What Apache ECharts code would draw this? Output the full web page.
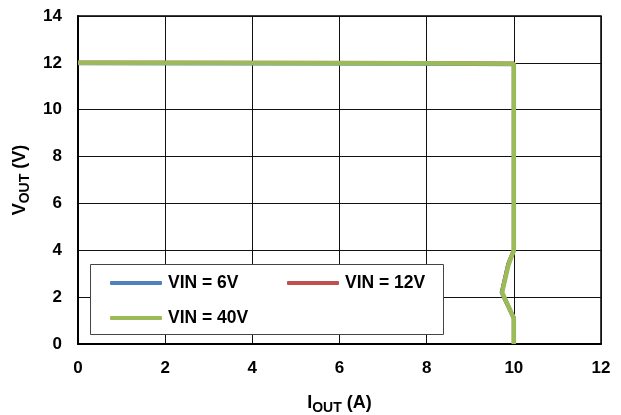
<!DOCTYPE html>
<html>
<head>
<meta charset="utf-8">
<script src="https://cdn.jsdelivr.net/npm/echarts@6/dist/echarts.min.js"></script>
<style>
html,body{margin:0;padding:0;background:#fff;}
#c{width:621px;height:415px;}
</style>
</head>
<body>
<div id="c"></div>
<script>
// Data
var seriesNames = ['VIN = 6V', 'VIN = 12V', 'VIN = 40V'];
var iout6  = [0, 4, 8, 10, 10, 9.87, 9.72, 10, 10];
var vout6  = [11.98, 11.97, 11.96, 11.94, 4.0, 3.4, 2.2, 1.1, 0];
var iout12 = [0, 4, 8, 10, 10, 9.87, 9.725, 10, 10];
var vout12 = [12.01, 12.0, 11.99, 11.97, 4.0, 3.4, 2.2, 1.1, 0];
var iout40 = [0, 4, 8, 10, 10, 9.88, 9.73, 10, 10];
var vout40 = [12.0, 11.99, 11.98, 11.96, 4.0, 3.4, 2.2, 1.1, 0];
var xTicks = {min: 0, max: 12, interval: 2};
var yTicks = {min: 0, max: 14, interval: 2};

function pairs(xs, ys) { return xs.map(function (x, i) { return [x, ys[i]]; }); }

var font = 'Arial, "Liberation Sans", sans-serif';
var colors = ['#4F81BD', '#C0504D', '#9BBB59'];
var fs = 17;

var chart = echarts.init(document.getElementById('c'), null, {renderer: 'canvas'});

function legendAt(name, left, top) {
  return {
    data: [name], left: left, top: top, orient: 'horizontal',
    icon: 'roundRect', itemWidth: 52, itemHeight: 4, itemGap: 0,
    padding: 0, selectedMode: false,
    textStyle: {fontFamily: font, fontWeight: 'bold', fontSize: 17.5, color: '#000', padding: [0, 0, 0, 1]}
  };
}

function richName() {
  return {
    rich: {
      m: {fontFamily: font, fontWeight: 'bold', fontSize: 18, color: '#000', lineHeight: 24, verticalAlign: 'middle'},
      s: {fontFamily: font, fontWeight: 'bold', fontSize: 14, color: '#000', lineHeight: 24, verticalAlign: 'bottom', padding: [8, 0, 0, 0]}
    }
  };
}

chart.setOption({
  animation: false,
  grid: {left: 78, right: 20, top: 16, bottom: 71, show: true, borderColor: '#000', borderWidth: 1.5,
         backgroundColor: 'transparent', containLabel: false, outerBoundsMode: 'none'},
  graphic: [{
    type: 'rect', z: 1, shape: {x: 90.5, y: 264.5, width: 353, height: 70},
    style: {fill: '#fff', stroke: '#444', lineWidth: 1}
  }],
  legend: [
    legendAt(seriesNames[0], 110, 274),
    legendAt(seriesNames[1], 287, 274),
    legendAt(seriesNames[2], 110, 309)
  ],
  xAxis: {
    type: 'value', min: xTicks.min, max: xTicks.max, interval: xTicks.interval,
    axisLine: {show: true, onZero: false, lineStyle: {color: '#000', width: 2}},
    axisTick: {show: false},
    splitLine: {show: true, lineStyle: {color: '#111', width: 1}},
    axisLabel: {margin: 16, fontFamily: font, fontWeight: 'bold', fontSize: fs, color: '#000'},
    name: '{m|I}{s|OUT}{m| (A)}', nameLocation: 'middle', nameGap: 47,
    nameTextStyle: richName()
  },
  yAxis: {
    type: 'value', min: yTicks.min, max: yTicks.max, interval: yTicks.interval,
    axisLine: {show: true, onZero: false, lineStyle: {color: '#000', width: 2}},
    axisTick: {show: false},
    splitLine: {show: true, lineStyle: {color: '#111', width: 1}},
    axisLabel: {margin: 16, fontFamily: font, fontWeight: 'bold', fontSize: fs, color: '#000'},
    name: '{m|V}{s|OUT}{m| (V)}', nameLocation: 'middle', nameGap: 40, nameRotate: 90,
    nameTextStyle: richName()
  },
  series: [
    {name: seriesNames[0], type: 'line', data: pairs(iout6, vout6), showSymbol: false, z: 3,
     lineStyle: {color: colors[0], width: 4}, itemStyle: {color: colors[0]}},
    {name: seriesNames[1], type: 'line', data: pairs(iout12, vout12), showSymbol: false, z: 4,
     lineStyle: {color: colors[1], width: 4}, itemStyle: {color: colors[1]}},
    {name: seriesNames[2], type: 'line', data: pairs(iout40, vout40), showSymbol: false, z: 5,
     lineStyle: {color: colors[2], width: 4.5}, itemStyle: {color: colors[2]}}
  ]
});
</script>
</body>
</html>
